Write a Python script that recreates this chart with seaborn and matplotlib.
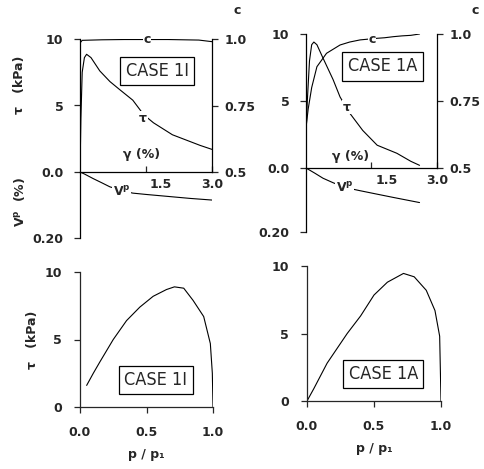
import numpy as np
import pandas as pd
import matplotlib
matplotlib.use("Agg")
import matplotlib.pyplot as plt
import matplotlib.transforms as mtransforms
import seaborn as sns

sns.set_style("white")
plt.rcParams["font.family"] = ["DejaVu Sans"]
plt.rcParams["mathtext.fontset"] = "dejavusans"
plt.rcParams["font.weight"] = "bold"
plt.rcParams["axes.labelweight"] = "bold"
plt.rcParams["mathtext.default"] = "bf"

# CASE 1I: stress-strain, c and volumetric strain
gamma_tau_1i = [0, 0.02, 0.05, 0.1, 0.15, 0.25, 0.45, 0.68, 0.9, 1.2, 1.45, 1.67, 2.1, 2.73, 3.0]
tau_1i = [0, 4.0, 7.5, 8.6, 8.85, 8.6, 7.6, 6.8, 6.2, 5.4, 4.3, 3.7, 2.8, 2.0, 1.7]
gamma_c_1i = [0, 0.05, 0.5, 1.0, 2.0, 2.7, 3.0]
c_1i = [0.985, 0.995, 0.997, 0.998, 0.998, 0.996, 0.99]
gamma_vp_1i = [0, 0.1, 0.3, 0.5, 0.68, 1.0, 1.2, 1.5, 2.0, 2.5, 3.0]
vp_1i = [0, 0.006, 0.02, 0.033, 0.045, 0.058, 0.064, 0.068, 0.074, 0.08, 0.085]

# CASE 1A
gamma_tau_1a = [0, 0.03, 0.08, 0.13, 0.18, 0.25, 0.39, 0.62, 0.78, 1.0, 1.3, 1.63, 2.08, 2.4, 2.6]
tau_1a = [2.5, 5.0, 8.0, 9.2, 9.4, 9.2, 8.2, 6.6, 5.3, 4.1, 2.8, 1.7, 1.1, 0.5, 0.2]
gamma_c_1a = [0, 0.05, 0.13, 0.25, 0.47, 0.78, 1.0, 1.24, 1.63, 1.8, 2.0, 2.2, 2.4, 2.6]
c_1a = [0.65, 0.72, 0.80, 0.878, 0.928, 0.959, 0.97, 0.978, 0.984, 0.986, 0.99, 0.993, 0.995, 1.0]
gamma_vp_1a = [0, 0.2, 0.39, 0.62, 0.8, 1.0, 1.24, 1.6, 2.0, 2.3, 2.6]
vp_1a = [0, 0.016, 0.032, 0.046, 0.056, 0.064, 0.071, 0.081, 0.092, 0.1, 0.108]

# stress paths tau vs p/p1
p_1i = [0.05, 0.1, 0.15, 0.25, 0.35, 0.45, 0.55, 0.65, 0.71, 0.78, 0.85, 0.93, 0.98, 0.995, 1.0]
tau_p_1i = [1.6, 2.5, 3.35, 5.0, 6.4, 7.4, 8.2, 8.7, 8.9, 8.8, 7.9, 6.7, 4.7, 2.5, 0]
p_1a = [0, 0.05, 0.15, 0.3, 0.4, 0.5, 0.6, 0.72, 0.8, 0.89, 0.955, 0.99, 1.0]
tau_p_1a = [0, 0.9, 2.8, 5.0, 6.3, 7.85, 8.8, 9.45, 9.2, 8.2, 6.7, 4.8, 0]

W, H = 485, 469
fig = plt.figure(figsize=(W / 100, H / 100), dpi=100)


def px_axes(l, t, r, b):
    return fig.add_axes([l / W, 1 - b / H, (r - l) / W, (b - t) / H])


def line(ax, x, y):
    sns.lineplot(x=x, y=y, ax=ax, color="black", lw=0.8, sort=False,
                 estimator=None)


FS = 9
LW = 0.9
box = dict(boxstyle="square,pad=0.3", fc="white", ec="black", lw=0.9)
wbg = dict(boxstyle="square,pad=0.05", fc="white", ec="none")
case_kw = dict(fontsize=13, ha="center", va="center", bbox=box,
               fontweight="normal", fontstretch="condensed")


def top_panel(l, t, r, b, bv, g_t, t_v, g_c, c_v, g_v, v_v, case, pos):
    ax = px_axes(l, t, r, b)
    axv = px_axes(l, b, r, bv)
    axc = ax.twinx()
    for a in (ax, axv, axc):
        a.set_facecolor("none")
        for s in a.spines.values():
            s.set_visible(False)
            s.set_linewidth(LW)
            s.set_color("black")
    ax.spines["left"].set_visible(True)
    ax.spines["bottom"].set_visible(True)
    axc.spines["right"].set_visible(True)
    axv.spines["left"].set_visible(True)

    line(ax, g_t, t_v)
    line(axc, g_c, c_v)
    line(axv, g_v, v_v)

    ax.set_xlim(0, 3.0)
    axv.set_xlim(0, 3.0)
    ax.set_ylim(0, 10)
    axc.set_ylim(0.5, 1.0)
    axv.set_ylim(0.2, 0)

    ax.set_xticks([1.5, 3.0])
    ax.set_xticklabels(["1.5", "3.0"], fontsize=FS)
    ax.tick_params(axis="x", direction="in", length=4, width=LW, pad=4,
                   bottom=True)
    # the 1.5 label sits a little to the right of its tick
    lab = ax.get_xticklabels()[0]
    lab.set_transform(lab.get_transform() + mtransforms.ScaledTranslation(
        0.15, 0, fig.dpi_scale_trans))
    ax.set_yticks([0, 5, 10])
    ax.set_yticklabels(["0.0", "5", "10"], fontsize=FS)
    ax.tick_params(axis="y", direction="out", length=4, width=LW, pad=8,
                   left=True)
    axc.set_yticks([0.5, 0.75, 1.0])
    axc.set_yticklabels(["0.5", "0.75", "1.0"], fontsize=FS)
    axc.tick_params(axis="y", direction="out", length=4, width=LW, pad=5,
                    right=True)
    axv.set_xticks([])
    axv.set_yticks([0.2])
    axv.set_yticklabels(["0.20"], fontsize=FS)
    axv.tick_params(axis="y", direction="out", length=4, width=LW, pad=8,
                    left=True)
    for a in (ax, axv, axc):
        a.set_xlabel("")
        a.set_ylabel("")

    gx, gy, cx, cy, tx, ty, vx, vy = pos
    ax.text(gx, gy, "γ (%)", fontsize=FS, ha="center", va="center")
    axc.text(cx, cy, "c", fontsize=FS, ha="center", va="center", bbox=wbg)
    ax.text(tx, ty, "τ", fontsize=FS, ha="center", va="center", bbox=wbg)
    axv.text(vx, vy, r"V$^{\rm p}$", fontsize=FS, ha="center", va="center",
             bbox=wbg)
    ax.text(1.75, 7.6, case, **case_kw)
    return ax


def bottom_panel(l, t, r, b, p, tv, case, ylab):
    ax = px_axes(l, t, r, b)
    ax.set_facecolor("none")
    for s in ax.spines.values():
        s.set_visible(False)
        s.set_linewidth(LW)
    ax.spines["left"].set_visible(True)
    ax.spines["bottom"].set_visible(True)
    line(ax, p, tv)
    ax.set_xlim(0, 1.0)
    ax.set_ylim(0, 10)
    ax.set_xticks([0, 0.5, 1.0])
    ax.set_xticklabels(["0.0", "0.5", "1.0"], fontsize=FS)
    ax.set_yticks([0, 5, 10])
    ax.set_yticklabels(["0", "5", "10"], fontsize=FS)
    ax.tick_params(axis="x", direction="out", length=4, width=LW, pad=10,
                   bottom=True)
    ax.tick_params(axis="y", direction="out", length=4, width=LW, pad=9,
                   left=True)
    ax.set_xlabel("p / p₁", fontsize=FS, labelpad=6)
    ax.set_ylabel(ylab, fontsize=FS, labelpad=4)
    ax.text(0.57, 2.0, case, **case_kw)
    return ax


top_panel(80, 39, 212, 172, 238, gamma_tau_1i, tau_1i, gamma_c_1i, c_1i,
          gamma_vp_1i, vp_1i, "CASE 1I",
          (1.41, 1.3, 1.52, 1.0, 1.43, 4.05, 0.95, 0.06))
top_panel(306, 34, 437, 168, 232, gamma_tau_1a, tau_1a, gamma_c_1a, c_1a,
          gamma_vp_1a, vp_1a, "CASE 1A",
          (1.03, 0.85, 1.51, 0.978, 0.94, 4.55, 0.89, 0.0625))

bottom_panel(80, 272, 213, 407, p_1i, tau_p_1i, "CASE 1I", "τ   (kPa)")
bottom_panel(307, 266, 441, 401, p_1a, tau_p_1a, "CASE 1A", "")

fig.text(20 / W, 1 - 85 / H, "τ   (kPa)", rotation=90, fontsize=FS,
         ha="center", va="center")
fig.text(20 / W, 1 - 202 / H, r"V$^{\rm p}$  (%)", rotation=90, fontsize=FS,
         ha="center", va="center")
fig.text(237 / W, 1 - 10 / H, "c", fontsize=FS, ha="center", va="center")
fig.text(475 / W, 1 - 10 / H, "c", fontsize=FS, ha="center", va="center")

fig.savefig("out.png", dpi=100)
